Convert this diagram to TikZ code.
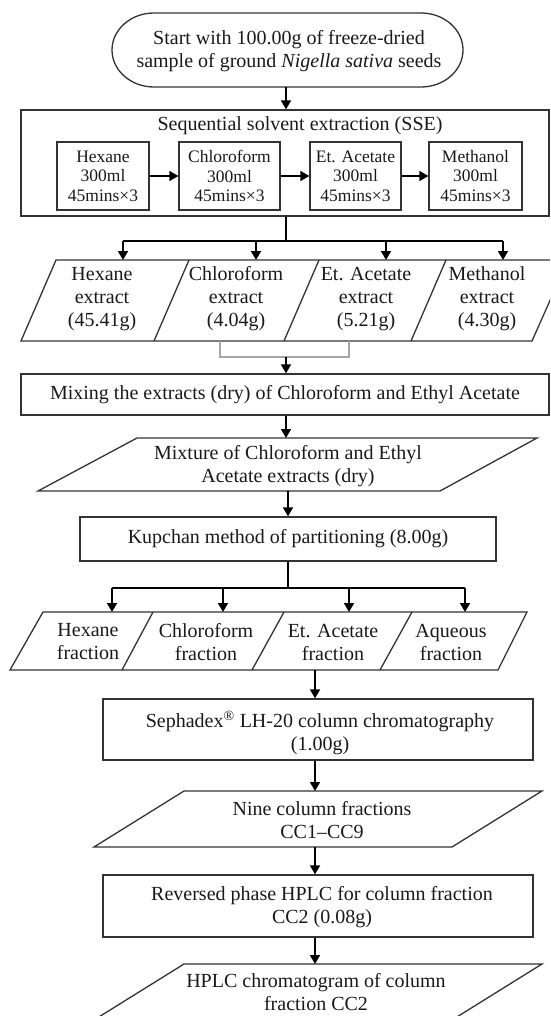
\documentclass[tikz,border=0pt]{standalone}
\usepackage{fontspec}
\setmainfont{Liberation Serif}
\usetikzlibrary{arrows.meta}
\begin{document}
\begin{tikzpicture}[x=1pt,y=-1pt,
  shapeline/.style={draw=black!80, line width=1.3pt},
  flow/.style={draw=black, line width=1.7pt},
  arr/.style={flow, -{Triangle[length=9pt,width=10pt]}},
  boxed/.style={shapeline, rectangle, inner sep=0pt, align=center, text=black!90,
    font=\fontsize{20}{23}\selectfont},
  smallbox/.style={shapeline, rectangle, inner sep=0pt, align=center, text=black!90,
    font=\fontsize{17.5}{19.5}\selectfont, minimum height=68pt},
  txt/.style={align=center, inner sep=0pt, text=black!90, font=\fontsize{20}{23}\selectfont},
]
\useasboundingbox (0,0) rectangle (550,1016);
\clip (0,0) rectangle (550,1016);

% start terminator
\draw[shapeline] (154,13) -- (421,13) arc[start angle=-90, end angle=90, x radius=42, y radius=37]
  -- (154,87) arc[start angle=90, end angle=270, x radius=42, y radius=37] -- cycle;
\node[txt] (start) at (289,51) {Start with 100.00g of freeze-dried\\sample of ground \textit{Nigella sativa} seeds};
\coordinate (startb) at (286,87);

% SSE box
\node[boxed, minimum width=528pt, minimum height=106pt] (sse) at (285,163) {};
\node[txt] (ssetitle) at (300,126) {Sequential solvent extraction (SSE)};
\node[smallbox, minimum width=92pt] (hex) at (103,176) {Hexane\\300ml\\45mins×3};
\node[smallbox, minimum width=101pt] (chl) at (229.5,176) {Chloroform\\300ml\\45mins×3};
\node[smallbox, minimum width=91pt] (eta) at (355.5,176) {Et. Acetate\\300ml\\45mins×3};
\node[smallbox, minimum width=93pt] (meth) at (475.5,176) {Methanol\\300ml\\45mins×3};
\draw[arr] (startb) -- (startb |- sse.north);
\draw[arr] (hex.east) -- (chl.west);
\draw[arr] (chl.east) -- (eta.west);
\draw[arr] (eta.east) -- (meth.west);

% split to extracts
\coordinate (j1) at (286,241);
\coordinate (e1) at (123,260);
\coordinate (e2) at (256,260);
\coordinate (e3) at (386,260);
\coordinate (e4) at (503,260);
\draw[flow] (j1 |- sse.south) -- (j1);
\draw[flow] (e1 |- j1) -- (e4 |- j1);
\draw[arr] (e1 |- j1) -- (e1);
\draw[arr] (e2 |- j1) -- (e2);
\draw[arr] (e3 |- j1) -- (e3);
\draw[arr] (e4 |- j1) -- (e4);

% extracts row
\draw[shapeline] (56,260) -- (568,260) -- (532,341) -- (21,341) -- cycle;
\draw[shapeline] (154,341) -- (189,260);
\draw[shapeline] (284,341) -- (319,260);
\draw[shapeline] (411,341) -- (446,260);
\node[txt] (hexext) at (102,299) {Hexane\\extract\\(45.41g)};
\node[txt] (chlext) at (236,299) {Chloroform\\extract\\(4.04g)};
\node[txt] (etaext) at (366,299) {Et. Acetate\\extract\\(5.21g)};
\node[txt] (methext) at (487,299) {Methanol\\extract\\(4.30g)};

% gray bracket
\coordinate (b1) at (220,341);
\coordinate (b2) at (349,341);
\coordinate (bj) at (286,357);
\draw[draw=black!35, line width=1.1pt] (b1) -- (b1 |- bj) -- (b2 |- bj) -- (b2);

% mixing box
\node[boxed, minimum width=528pt, minimum height=41pt] (mix) at (285,394.5) {Mixing the extracts (dry) of Chloroform and Ethyl Acetate};
\draw[arr] (bj) -- (bj |- mix.north);

% mixture parallelogram
\draw[shapeline] (137,438) -- (537,438) -- (440,491) -- (38,491) -- cycle;
\node[txt] (mixt) at (288,466.5) {Mixture of Chloroform and Ethyl\\Acetate extracts (dry)};
\coordinate (mixtop) at (286,438);
\coordinate (mixbot) at (288,491);
\draw[arr] (mixtop |- mix.south) -- (mixtop);

% Kupchan
\node[boxed, minimum width=416pt, minimum height=44pt] (kup) at (288,539) {Kupchan method of partitioning (8.00g)};
\draw[arr] (mixbot) -- (kup.north);

% split to fractions
\coordinate (j2) at (288,588);
\coordinate (f1) at (112,612);
\coordinate (f2) at (223,612);
\coordinate (f3) at (349,612);
\coordinate (f4) at (465,612);
\draw[flow] (kup.south) -- (j2);
\draw[flow] (f1 |- j2) -- (f4 |- j2);
\draw[arr] (f1 |- j2) -- (f1);
\draw[arr] (f2 |- j2) -- (f2);
\draw[arr] (f3 |- j2) -- (f3);
\draw[arr] (f4 |- j2) -- (f4);

% fractions row
\draw[shapeline] (43,612) -- (527,612) -- (498,670) -- (10,670) -- cycle;
\draw[shapeline] (122,670) -- (153,612);
\draw[shapeline] (252,670) -- (284,612);
\draw[shapeline] (380,670) -- (412,612);
\node[txt] (hexfr) at (88,642) {Hexane\\fraction};
\node[txt] (chlfr) at (206,642) {Chloroform\\fraction};
\node[txt] (etafr) at (333,642) {Et. Acetate\\fraction};
\node[txt] (aqfr) at (451,642) {Aqueous\\fraction};
\coordinate (etbot) at (315,670);

% Sephadex
\node[boxed, minimum width=430pt, minimum height=61pt] (seph) at (318,729.5) {};
\node[txt] (sephtxt) at (320,733) {Sephadex\textsuperscript{®} LH-20 column chromatography\\(1.00g)};
\draw[arr] (etbot) -- (etbot |- seph.north);

% nine column fractions
\draw[shapeline] (184,791) -- (542,791) -- (452,847) -- (94,847) -- cycle;
\node[txt] (nine) at (322,820) {Nine column fractions\\CC1–CC9};
\coordinate (ninetop) at (315,791);
\coordinate (ninebot) at (315,847);
\draw[arr] (ninetop |- seph.south) -- (ninetop);

% reversed phase
\node[boxed, minimum width=430pt, minimum height=62pt] (rev) at (318,906) {};
\node[txt] (revtxt) at (322,907) {Reversed phase HPLC for column fraction\\CC2 (0.08g)};
\draw[arr] (ninebot) -- (ninebot |- rev.north);

% HPLC chromatogram
\draw[shapeline] (184,964) -- (542,964) -- (452,1020) -- (94,1020) -- cycle;
\node[txt] (hplc) at (316,992) {HPLC chromatogram of column\\fraction CC2};
\coordinate (hplctop) at (315,964);
\draw[arr] (hplctop |- rev.south) -- (hplctop);
\end{tikzpicture}
\end{document}
